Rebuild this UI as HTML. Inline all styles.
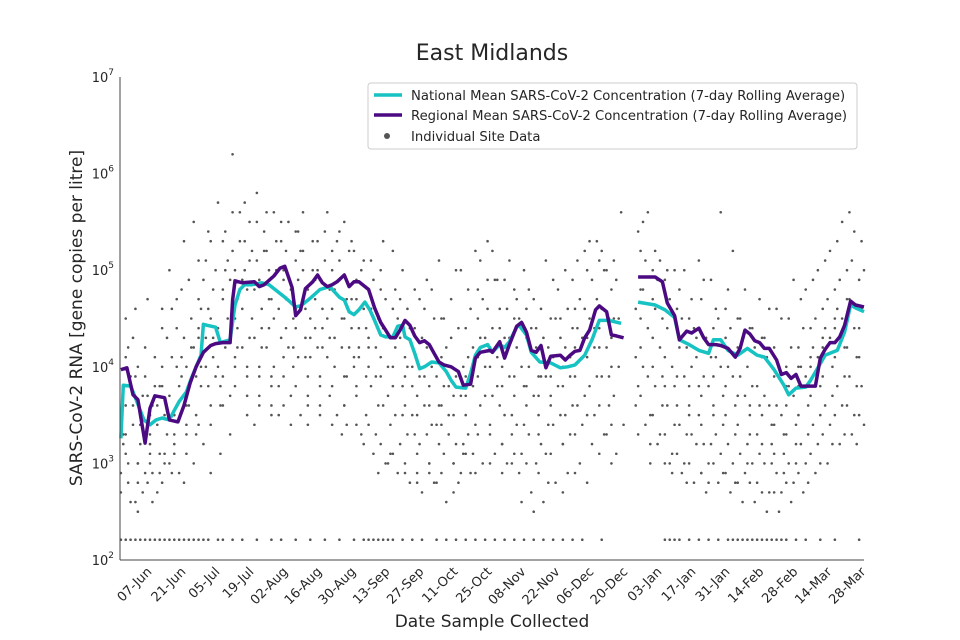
<!DOCTYPE html>
<html><head><meta charset="utf-8">
<style>
html,body{margin:0;padding:0;background:#fff;}
svg{display:block;font-family:"DejaVu Sans","Liberation Sans",sans-serif;}
</style></head>
<body>
<svg id="chart" width="960" height="640" viewBox="0 0 960 640">
<text x="492" y="60" text-anchor="middle" font-size="22" fill="#262626">East Midlands</text>
<text transform="translate(82,318) rotate(-90)" text-anchor="middle" font-size="17" fill="#262626">SARS-CoV-2 RNA [gene copies per litre]</text>
<text x="492" y="627" text-anchor="middle" font-size="17" fill="#262626">Date Sample Collected</text>
<g id="scatter"></g>
<g id="lines"></g>
<g id="axes"></g>
<g>
<rect x="368" y="83" width="489" height="66" rx="3" fill="#fff" fill-opacity="0.85" stroke="#ccc" stroke-width="1"/>
<line x1="374" y1="95" x2="402" y2="95" stroke="#16c2c2" stroke-width="3.5"/>
<text x="411" y="100" font-size="13.2" fill="#262626">National Mean SARS-CoV-2 Concentration (7-day Rolling Average)</text>
<line x1="374" y1="115" x2="402" y2="115" stroke="#4b0a82" stroke-width="3.5"/>
<text x="411" y="120" font-size="13.2" fill="#262626">Regional Mean SARS-CoV-2 Concentration (7-day Rolling Average)</text>
<circle cx="387" cy="136" r="3" fill="#555"/>
<text x="411" y="141" font-size="13.2" fill="#262626">Individual Site Data</text>
</g>
</svg>
<script>
// day offsets from 07-Jun; values are log10(gene copies per litre)
const tickLabels = ["07-Jun","21-Jun","05-Jul","19-Jul","02-Aug","16-Aug","30-Aug","13-Sep","27-Sep","11-Oct","25-Oct","08-Nov","22-Nov","06-Dec","20-Dec","03-Jan","17-Jan","31-Jan","14-Feb","28-Feb","14-Mar","28-Mar"];
const yTickExps = [2,3,4,5,6,7];
const regionalDays1 = [-12,-9.5,-7,-5,-2,0,2,6,8,11.5,14,16.5,19,22,25,27,30,33,34,35,38,43,45,47,51,53.5,55.5,58.5,60,62,64,67,69,71,73,75,77,80,82,84,86,90,92.5,95,97,99,101,103,105,107,109,111,113,115,117,119,121,124,127,129,132,134,136,140,141,144,146,148,151,153,155,157,159,161,163,165,169,171,173,175,177,179,181,183.5,185,188,190,192,195];
const regionalLog1 = [3.97,3.99,3.71,3.66,3.21,3.57,3.70,3.68,3.45,3.43,3.60,3.83,4.00,4.15,4.22,4.24,4.25,4.25,4.69,4.89,4.87,4.88,4.83,4.85,4.94,5.02,5.04,4.82,4.53,4.59,4.81,4.88,4.95,4.87,4.83,4.85,4.88,4.95,4.83,4.88,4.88,4.80,4.61,4.46,4.38,4.30,4.30,4.38,4.48,4.43,4.32,4.25,4.27,4.23,4.14,4.05,4.02,4.00,3.95,3.81,3.82,4.09,4.15,4.17,4.15,4.26,4.09,4.23,4.42,4.46,4.36,4.17,4.15,4.22,3.99,4.11,4.12,4.07,4.12,4.16,4.17,4.30,4.38,4.59,4.63,4.57,4.33,4.32,4.30];
const regionalDays2 = [201,208,211,213,216,218,221,223,226,228,230,233,235,238,241,243,245,247,249,251,253,255,258,260,262,264,266,268,270,274,276,278,280,282,284,286,288.5,290.5,294];
const regionalLog2 = [4.93,4.93,4.88,4.66,4.53,4.28,4.37,4.35,4.40,4.30,4.23,4.23,4.22,4.19,4.10,4.19,4.38,4.34,4.27,4.25,4.19,4.19,4.07,3.92,3.94,3.88,3.92,3.80,3.80,3.80,4.09,4.18,4.25,4.25,4.31,4.43,4.68,4.64,4.62];
const nationalDays1 = [-12,-11,-8,-6,-2.5,0,2.5,5,8,10,12,15,17,21,22,23.5,27,29,33,35,37,39,42,46,49,55.5,60,62,66,70,74,78,80,82,84,86,88.5,90.5,92.5,95,97,100,102,104,105,107,109,111,113,116,119,122,124,126,130,132,134,136,139,141,144,146,148,151,152,155,157,160.5,165,169,172,175,179,182,185,189,194];
const nationalLog1 = [3.26,3.81,3.80,3.68,3.45,3.40,3.45,3.47,3.45,3.55,3.64,3.74,3.88,4.12,4.44,4.43,4.41,4.25,4.28,4.64,4.80,4.85,4.85,4.87,4.85,4.72,4.62,4.63,4.71,4.80,4.83,4.72,4.69,4.57,4.54,4.59,4.67,4.59,4.48,4.33,4.31,4.31,4.42,4.43,4.31,4.28,4.14,3.98,4.00,4.05,4.04,3.95,3.86,3.79,3.78,3.93,4.12,4.20,4.23,4.15,4.23,4.20,4.26,4.41,4.43,4.33,4.15,4.05,4.04,3.99,4.00,4.02,4.12,4.28,4.48,4.48,4.45];
const nationalDays2 = [201,208,212,216,218,222,226,230,232,235,238,242,246,250,253,257,261,263,266,270,272,275,278,281,283,286,288.5,290.5,294];
const nationalLog2 = [4.67,4.64,4.59,4.51,4.28,4.23,4.17,4.14,4.28,4.28,4.17,4.12,4.19,4.12,4.10,3.97,3.81,3.71,3.78,3.79,3.86,3.99,4.12,4.15,4.17,4.36,4.64,4.61,4.57];
// site samples: one column per sampling day (two sampling runs per week)
const siteDays = [-11,-6,-1,4,9,14,19,24,29,34,39,44,49,54,59,64,69,74,79,84,89,94,99,104,109,114,119,124,129,134,139,144,149,154,159,164,169,174,179,184,189,194,201,206,211,216,221,226,231,236,241,246,251,256,261,266,271,276,281,286,291];
const siteLogs = [
[3.5,3.2,4.5,2.9,3.8,4.1,2.7,3.3],
[3.6,2.6,3.0,4.3,3.9,2.8,3.4,4.6],
[2.9,3.7,3.3,4.2,2.8,3.1,3.9,4.7],
[3.4,2.9,4.0,3.6,3.1,4.4,2.7,3.8],
[3.7,4.6,3.2,3.0,4.1,3.5,5.0,2.9],
[3.9,4.3,3.3,4.8,2.8,3.6,4.1,5.3],
[4.2,3.5,4.7,3.0,3.9,4.4,5.5,3.3],
[4.0,4.6,3.4,5.1,3.8,2.9,4.3,5.4],
[4.4,3.6,5.3,4.0,3.1,4.8,5.7,3.8],
[4.9,5.6,4.1,3.7,5.2,4.5,3.3,6.2],
[4.6,5.3,3.9,4.2,5.7,3.5,4.9,5.0],
[4.3,5.5,3.7,4.8,5.1,4.0,3.4,5.8],
[5.2,4.4,3.9,5.6,4.7,3.6,4.2,5.0],
[4.6,5.3,4.1,3.8,5.5,4.9,3.5,4.3],
[4.8,4.0,5.4,3.7,4.5,5.1,3.4,4.2],
[5.0,4.3,3.9,5.6,4.6,3.6,5.2,4.1],
[4.7,5.3,3.8,4.4,5.0,3.5,4.9,4.2],
[4.5,3.7,5.2,4.1,4.8,3.4,5.6,4.3],
[4.9,4.2,3.6,5.4,4.5,3.9,5.1,3.3],
[4.4,5.2,3.8,4.7,4.0,3.4,5.3,4.1],
[4.6,3.9,4.2,5.1,3.5,4.8,3.2,4.4],
[4.2,3.6,4.8,3.3,4.5,5.0,3.9,2.9],
[4.0,3.4,4.6,3.0,4.3,5.2,3.7,3.1],
[4.3,3.5,2.9,4.7,3.8,4.1,3.2,5.0],
[3.8,4.4,3.1,3.5,4.8,2.8,4.0,3.3],
[3.6,4.2,3.0,4.6,3.3,2.9,3.9,4.9],
[3.9,3.2,4.5,2.8,3.6,4.1,3.4,5.1],
[3.5,4.3,3.0,3.8,4.7,2.7,3.3,4.0],
[3.7,3.1,4.4,2.9,4.0,3.5,5.0,3.2],
[4.2,3.4,4.8,3.8,2.9,4.5,3.1,5.2],
[4.0,4.6,3.3,3.7,4.9,3.0,4.3,5.3],
[3.8,4.4,3.2,4.9,3.6,2.9,4.1,4.6],
[4.3,3.5,4.8,3.9,3.0,4.5,5.1,3.3],
[4.0,3.4,4.6,3.1,3.8,4.3,2.6,5.0],
[3.7,4.2,3.3,4.7,3.0,3.9,2.5,4.4],
[3.9,3.4,4.5,3.1,4.2,3.6,5.1,2.8],
[3.8,4.3,3.2,4.8,3.5,2.7,4.0,4.5],
[4.1,3.6,4.6,3.3,4.9,2.9,3.9,4.4],
[4.3,3.7,5.0,3.4,4.6,2.8,4.1,5.2],
[4.4,3.9,5.1,3.5,4.7,3.1,4.2,5.3],
[4.2,3.6,4.8,3.3,4.5,3.0,5.0,3.9],
[4.5,5.6,3.4,4.0],
[4.6,3.8,5.2,4.1,3.3,4.8,3.6,5.4],
[4.4,3.5,5.0,3.9,3.2,4.7,5.6,3.0],
[4.2,3.6,4.9,3.3,4.5,3.0,5.1,3.9],
[4.0,3.4,4.6,3.1,3.8,4.4,2.9,5.0],
[3.9,3.3,4.5,3.0,4.2,3.6,5.0,2.8],
[4.1,3.5,4.7,3.2,3.8,2.9,4.3,5.1],
[3.8,3.2,4.4,3.0,4.1,3.5,2.8,4.9],
[4.0,3.4,4.6,3.1,3.7,4.3,5.6,2.9],
[3.9,3.3,4.5,3.0,3.6,4.2,5.2,2.8],
[3.7,3.2,4.4,2.9,4.0,3.5,4.8,3.0],
[3.8,3.1,4.3,2.8,3.6,4.1,3.3,4.7],
[3.6,3.0,4.2,2.7,3.4,3.9,4.6,3.2],
[3.5,2.9,4.0,2.7,3.3,3.8,4.5,3.1],
[3.7,3.0,4.2,2.8,3.4,4.0,4.9,3.2],
[3.9,3.3,4.4,3.0,3.6,4.1,4.8,2.8],
[4.1,3.5,4.6,3.2,3.8,4.3,5.0,3.0],
[4.3,3.7,4.8,3.4,4.0,4.5,5.2,3.2],
[4.5,3.9,5.0,3.6,4.2,4.7,5.5,3.3],
[4.4,3.8,4.9,3.5,4.1,4.6,5.4,3.2]
];
const siteDaysB = [-9,-4,1,6,11,16,21,26,31,36,41,46,51,56,61,66,71,76,81,86,91,96,101,106,111,116,121,126,131,136,141,146,151,156,161,166,171,176,181,186,191,203,208,213,218,223,228,233,238,243,248,253,258,263,268,273,278,283,288,293];
const siteLogsB = [
[3.3,2.8,3.9,3.1,4.2,2.6,3.6,3.0],
[3.0,3.5,2.7,4.0,3.2,3.7,2.5,3.4],
[3.2,2.9,3.8,3.5,2.6,4.1,3.0,3.6],
[3.8,3.0,4.3,2.8,3.5,3.3,4.6,3.1],
[3.5,4.0,2.9,3.3,4.4,3.8,3.1,4.7],
[4.0,3.6,4.5,3.1,3.8,4.2,3.4,4.9],
[4.3,3.8,4.9,3.4,4.6,3.2,5.1,4.0],
[4.5,4.1,5.0,3.6,4.8,3.9,5.3,4.3],
[4.7,4.2,5.1,3.9,5.4,4.5,3.6,5.0],
[5.0,4.4,5.3,4.0,4.7,5.6,3.8,4.2],
[4.8,4.3,5.2,3.7,5.5,4.5,4.0,5.1],
[4.9,4.2,5.4,3.9,4.6,5.2,3.6,4.4],
[4.7,4.0,5.3,3.8,4.5,5.0,3.5,5.6],
[5.0,4.4,5.5,3.9,4.7,4.2,3.6,5.2],
[4.6,4.1,5.2,3.8,4.9,3.5,4.4,5.4],
[4.8,4.3,5.3,3.7,4.5,5.0,3.4,4.1],
[4.9,4.2,5.1,3.9,4.6,5.4,3.6,4.4],
[4.6,4.0,5.3,3.8,4.8,3.5,5.0,4.3],
[4.5,3.9,5.2,3.6,4.7,4.2,5.5,3.4],
[4.7,4.1,5.0,3.7,4.4,3.3,4.9,4.2],
[4.3,3.8,4.9,3.4,4.6,3.1,4.0,5.1],
[4.1,3.6,4.7,3.2,4.4,3.0,3.9,5.3],
[4.0,3.5,4.5,3.1,4.2,2.9,3.8,4.8],
[3.9,3.3,4.4,3.0,4.0,2.8,3.6,4.6],
[3.7,3.2,4.3,2.9,3.9,2.7,3.5,4.7],
[3.8,3.4,4.5,3.0,4.0,2.8,3.6,4.8],
[3.6,3.1,4.2,2.9,3.8,2.6,3.4,4.5],
[3.7,3.2,4.4,3.0,3.9,2.8,3.5,5.0],
[3.9,3.3,4.6,3.1,4.1,2.9,3.7,4.8],
[4.1,3.6,4.7,3.3,4.3,3.0,3.9,5.1],
[4.2,3.7,4.9,3.4,4.4,3.1,4.0,5.2],
[4.0,3.5,4.6,3.2,4.3,3.0,3.8,4.9],
[3.9,3.4,4.5,3.1,4.2,2.9,3.7,4.7],
[3.8,3.3,4.4,3.0,4.0,2.7,3.6,4.8],
[3.7,3.2,4.3,2.9,3.9,2.6,3.5,4.6],
[3.9,3.4,4.5,3.1,4.1,2.8,3.7,4.9],
[4.0,3.5,4.6,3.2,4.2,2.9,3.8,5.0],
[4.2,3.6,4.7,3.3,4.4,3.0,3.9,5.1],
[4.3,3.8,4.9,3.5,4.5,3.2,4.1,5.3],
[4.4,3.9,5.0,3.6,4.6,3.3,4.2,5.2],
[4.3,3.7,4.9,3.4,4.5,3.1,4.0,5.1],
[4.5,4.0,5.1,3.7,4.8,3.4,4.2,5.5],
[4.3,3.8,4.9,3.5,4.6,3.2,4.0,5.2],
[4.1,3.6,4.7,3.3,4.4,3.0,3.8,5.0],
[3.9,3.4,4.5,3.1,4.2,2.9,3.6,4.8],
[3.8,3.3,4.4,3.0,4.0,2.8,3.5,4.7],
[3.7,3.2,4.3,2.9,3.9,2.7,3.4,4.9],
[3.9,3.3,4.5,3.0,4.1,2.8,3.6,4.6],
[3.8,3.2,4.4,2.9,4.0,2.7,3.5,4.8],
[3.7,3.1,4.3,2.8,3.9,2.6,3.4,4.5],
[3.6,3.0,4.2,2.8,3.8,2.6,3.3,4.4],
[3.5,3.0,4.1,2.7,3.7,2.5,3.2,4.3],
[3.4,2.9,4.0,2.7,3.6,2.5,3.1,4.6],
[3.6,3.0,4.2,2.8,3.8,2.6,3.3,4.5],
[3.8,3.2,4.4,2.9,4.0,2.7,3.5,4.7],
[4.0,3.4,4.5,3.1,4.2,2.9,3.7,4.9],
[4.2,3.6,4.7,3.3,4.4,3.0,3.9,5.1],
[4.4,3.8,4.9,3.5,4.6,3.2,4.1,5.3],
[4.5,3.9,5.1,3.6,4.7,3.3,4.2,5.6],
[4.4,3.8,5.0,3.5,4.6,3.4,4.1,5.3]
];
const floorDays = [-12,-10,-8,-6,-4,-2,0,2,4,6,8,10,12,14,16,18,20,22,24,28,30,34,38,44,50,54,60,66,72,78,84,88,90,92,94,96,98,100,104,108,112,118,122,126,130,134,138,142,146,150,154,158,162,166,170,174,178,186,212,214,216,218,222,226,230,234,238,240,242,244,246,248,250,252,254,256,258,260,262,266,270,276,282,292];
const floorLog = 2.21;

const NS='http://www.w3.org/2000/svg';
const X0=120, X1=864, Y0=560, Y1=77;
function xScale(day){ return 150 + day*34/14; }
function yScale(lg){ return Y0 - (lg-2)/(7-2)*(Y0-Y1); }
function mk(tag, attrs, parent){ const e=document.createElementNS(NS,tag); for(const k in attrs) e.setAttribute(k, attrs[k]); parent.appendChild(e); return e; }

const sg=document.getElementById('scatter');
function drawSites(days, logs){
  days.forEach((d,i)=>{
    logs[i].forEach((v,j)=>{
      const off=((j%3)-1)*1.0;
      const c=mk('circle',{cx:xScale(d+off),cy:yScale(v),r:1.3,fill:'#555'},sg);
      
      
    });
  });
}
drawSites(siteDays, siteLogs);
drawSites(siteDaysB, siteLogsB);
floorDays.forEach(d=>{
  const c=mk('circle',{cx:xScale(d),cy:yScale(floorLog),r:1.3,fill:'#555'},sg);
  
  
});

const lg=document.getElementById('lines');
function drawLine(days, vals, color, name){
  const pts=days.map((d,i)=>xScale(d).toFixed(1)+','+yScale(vals[i]).toFixed(1)).join(' ');
  const p=mk('polyline',{points:pts,fill:'none',stroke:color,'stroke-width':3.5,'stroke-linejoin':'round'},lg);
  
  
}
drawLine(nationalDays1,nationalLog1,'#16c2c2','national-line-summer');
drawLine(nationalDays2,nationalLog2,'#16c2c2','national-line-winter');
drawLine(regionalDays1,regionalLog1,'#4b0a82','regional-line-summer');
drawLine(regionalDays2,regionalLog2,'#4b0a82','regional-line-winter');

const ax=document.getElementById('axes');
const yl=mk('line',{x1:X0,y1:Y1,x2:X0,y2:Y0,stroke:'#444','stroke-width':1},ax);


const xl=mk('line',{x1:X0,y1:Y0,x2:X1,y2:Y0,stroke:'#444','stroke-width':1},ax);


yTickExps.forEach(e=>{
  const t=mk('text',{x:114,y:yScale(e)+5,'text-anchor':'end','font-size':13,fill:'#262626'},ax);
  
  
  t.appendChild(document.createTextNode('10'));
  const s=mk('tspan',{dy:-7,'font-size':9},t);
  s.textContent=String(e);
});
tickLabels.forEach((lab,i)=>{
  const x=xScale(i*14)-4, y=566;
  const t=mk('text',{x:x,y:y,'text-anchor':'end','font-size':13,fill:'#262626',transform:'rotate(-45 '+x+' '+y+')',dy:'0.7em'},ax);
  
  
  t.textContent=lab;
});
</script>
</body></html>
